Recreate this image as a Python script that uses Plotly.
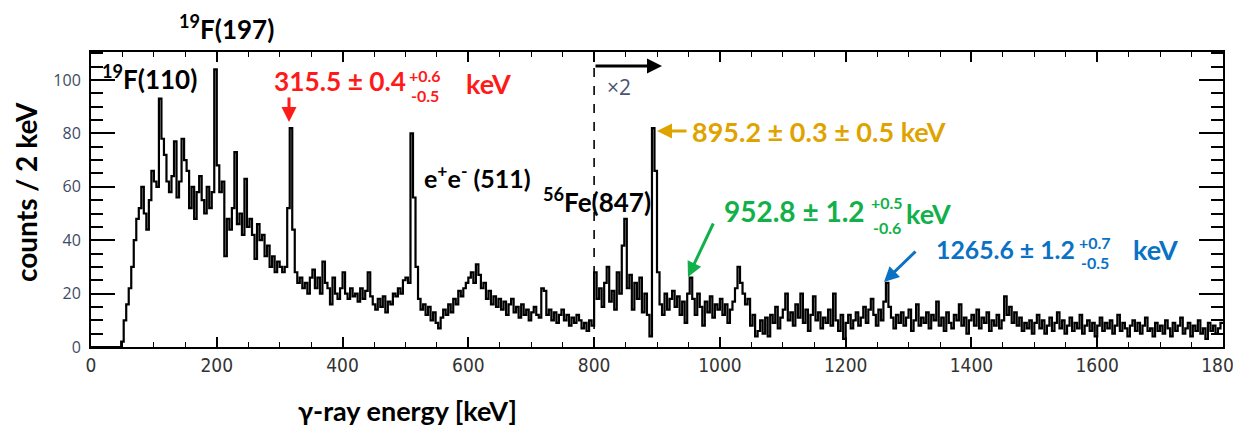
import numpy as np
import plotly.graph_objects as go

# ---------------- data (4 keV steps as drawn, counts as displayed) ----------------
bin_width_kev = 4
counts_0_100 = [0, 0, 0, 0, 0, 0, 0, 0, 0, 0, 0, 0, 2, 10, 16, 22, 30, 40, 48, 52, 60, 50, 44, 55, 66]
counts_100_200 = [62, 60, 93, 78, 72, 62, 58, 64, 77, 56, 62, 78, 70, 66, 52, 60, 48, 58, 64, 55, 50, 60, 52, 58, 104]
counts_200_300 = [68, 58, 62, 34, 48, 44, 52, 73, 46, 50, 42, 63, 45, 48, 42, 33, 46, 40, 42, 34, 38, 30, 34, 28, 32]
counts_300_400 = [30, 28, 30, 52, 82, 44, 28, 24, 26, 22, 24, 20, 26, 29, 22, 26, 20, 32, 24, 22, 16, 26, 20, 18, 22]
counts_400_500 = [28, 20, 18, 22, 19, 20, 17, 22, 18, 21, 28, 19, 16, 14, 18, 15, 19, 13, 17, 16, 20, 19, 22, 20, 25]
counts_500_600 = [26, 24, 80, 56, 30, 18, 14, 16, 12, 15, 10, 13, 9, 7, 11, 14, 12, 16, 13, 18, 16, 21, 19, 22, 24]
counts_600_700 = [26, 28, 24, 31, 27, 22, 24, 18, 21, 16, 19, 15, 18, 14, 17, 12, 16, 18, 13, 15, 11, 16, 12, 14, 10]
counts_700_800 = [13, 15, 12, 11, 22, 21, 12, 14, 10, 13, 9, 12, 14, 10, 12, 8, 11, 9, 12, 10, 7, 9, 6, 10, 8]
counts_800_900 = [28, 18, 22, 15, 24, 30, 17, 21, 14, 28, 20, 38, 48, 22, 27, 14, 24, 18, 26, 13, 20, 12, 4, 82, 66]
counts_900_1000 = [28, 16, 12, 20, 14, 18, 21, 15, 19, 12, 17, 9, 20, 26, 18, 12, 20, 15, 8, 17, 13, 19, 11, 16, 14]
counts_1000_1100 = [18, 12, 16, 9, 14, 17, 22, 30, 24, 20, 16, 18, 8, 12, 4, 6, 10, 5, 11, 4, 12, 9, 15, 7, 11]
counts_1100_1200 = [14, 20, 10, 13, 8, 16, 11, 20, 9, 14, 6, 12, 19, 10, 13, 7, 11, 9, 14, 8, 20, 10, 6, 12, 3]
counts_1200_1300 = [9, 12, 7, 10, 13, 8, 11, 15, 9, 14, 18, 12, 8, 14, 10, 17, 24, 15, 11, 7, 12, 9, 13, 8, 11]
counts_1300_1400 = [14, 6, 10, 16, 8, 11, 9, 13, 7, 12, 10, 17, 8, 11, 6, 13, 9, 7, 12, 10, 16, 8, 11, 5, 10]
counts_1400_1500 = [12, 8, 14, 7, 11, 9, 13, 6, 10, 8, 12, 7, 10, 19, 12, 15, 9, 13, 8, 11, 6, 9, 7, 10, 5]
counts_1500_1600 = [9, 12, 7, 10, 5, 8, 11, 6, 9, 13, 7, 10, 5, 8, 11, 6, 9, 7, 12, 5, 8, 10, 6, 9, 4]
counts_1600_1700 = [8, 11, 6, 9, 7, 10, 5, 8, 12, 6, 9, 7, 4, 8, 10, 6, 9, 5, 8, 11, 6, 7, 4, 9, 6]
counts_1700_1800 = [8, 5, 10, 7, 4, 9, 6, 8, 11, 5, 7, 9, 4, 8, 6, 10, 5, 7, 3, 9, 6, 8, 5, 7, 9]

counts = (counts_0_100 + counts_100_200 + counts_200_300 + counts_300_400 + counts_400_500
          + counts_500_600 + counts_600_700 + counts_700_800 + counts_800_900 + counts_900_1000
          + counts_1000_1100 + counts_1100_1200 + counts_1200_1300 + counts_1300_1400
          + counts_1400_1500 + counts_1500_1600 + counts_1600_1700 + counts_1700_1800)

x_tick_values = [0, 200, 400, 600, 800, 1000, 1200, 1400, 1600, 1800]
y_tick_values = [0, 20, 40, 60, 80, 100]
scale_change_kev = 800

edges = np.arange(len(counts) + 1) * bin_width_kev
step_x = edges
step_y = counts + [counts[-1]]

# ---------------- layout geometry ----------------
W, H = 1233, 432
L, R, T, B = 91, 10, 52, 85
PX0, PX1 = L, W - R
PY0, PY1 = T, H - B


def px(xp):
    return (xp - PX0) / (PX1 - PX0)


def py(yp):
    return (PY1 - yp) / (PY1 - PY0)


BOLD = "Lato, 'Open Sans', sans-serif"
NARROW = "'Liberation Sans Narrow', 'DejaVu Sans Condensed', 'Arial Narrow', sans-serif"

fig = go.Figure()
fig.add_trace(go.Scatter(x=step_x, y=step_y, mode="lines",
                         line=dict(shape="hv", color="black", width=2.2),
                         hoverinfo="skip", showlegend=False))

# dashed scale-change line
fig.add_shape(type="line", x0=scale_change_kev, x1=scale_change_kev, y0=0, y1=106,
              xref="x", yref="y", line=dict(color="black", width=1.6, dash="dash"))

annotations = []


def txt(text, xp, yp, size, color="black", bold=True, xanchor="left", family=BOLD):
    t = f"<b>{text}</b>" if bold else text
    annotations.append(dict(text=t, x=px(xp), y=py(yp), xref="paper", yref="paper",
                            xanchor=xanchor, yanchor="middle", showarrow=False,
                            font=dict(size=size, color=color, family=family)))


def arrow(tip, tail, color, width=3, head=2, size=1.0):
    annotations.append(dict(text="", x=px(tip[0]), y=py(tip[1]), xref="paper", yref="paper",
                            ax=tail[0] - tip[0], ay=tail[1] - tip[1], axref="pixel", ayref="pixel",
                            showarrow=True, arrowhead=head, arrowsize=size, arrowwidth=width,
                            arrowcolor=color))


# peak labels
txt("<sup>19</sup>F(197)", 177, 28, 26)
txt("<sup>19</sup>F(110)", 100, 77, 26)
txt("e<sup>+</sup>e<sup>-</sup> (511)", 422, 176, 25)
txt("<sup>56</sup>Fe(847)", 541, 200, 26)
txt("×2", 605, 87, 21, color="#4a5470", bold=False, family="'Open Sans', sans-serif")

RED = "#ff1a1a"
GOLD = "#dfa300"
GREEN = "#12b04a"
BLUE = "#0a72c4"

# red 315.5
txt("315.5 ± 0.4", 272, 81, 26.3, RED)
txt("+0.6", 407, 75, 16, RED)
txt("-0.5", 409, 95, 16, RED)
txt("keV", 464, 83, 27, RED)
arrow((289, 122), (289, 96), RED)

# gold 895.2
txt("895.2 ± 0.3 ± 0.5 keV", 690, 131, 27, GOLD)
arrow((657, 131), (688, 131), GOLD)

# green 952.8
txt("952.8 ± 1.2", 722, 211, 28, GREEN)
txt("+0.5", 869, 203, 16, GREEN)
txt("-0.6", 871, 227, 16, GREEN)
txt("keV", 904, 213, 27, GREEN)
arrow((688, 277), (714, 222), GREEN)

# blue 1265.6
txt("1265.6 ± 1.2", 934, 249, 24.8, BLUE)
txt("+0.7", 1077, 242, 16, BLUE)
txt("-0.5", 1079, 262, 16, BLUE)
txt("keV", 1131, 249, 27, BLUE)
arrow((884, 282), (917, 250), BLUE)

# x2 region arrow
arrow((662, 66), (594, 66), "black", width=3)

# axis titles
annotations.append(dict(text="<b>counts / 2 keV</b>", x=px(26), y=py(192), xref="paper", yref="paper",
                        textangle=-90, showarrow=False, xanchor="center", yanchor="middle",
                        font=dict(size=28, family=BOLD, color="black")))
annotations.append(dict(text="<b>γ-ray energy [keV]</b>", x=px(407), y=py(410), xref="paper", yref="paper",
                        showarrow=False, xanchor="center", yanchor="middle",
                        font=dict(size=27, family=BOLD, color="black")))

fig.update_layout(
    width=W, height=H,
    margin=dict(l=L, r=R, t=T, b=B, autoexpand=False),
    paper_bgcolor="white", plot_bgcolor="white",
    showlegend=False,
    annotations=annotations,
    xaxis=dict(range=[0, 1800], tickmode="array", tickvals=x_tick_values,
               automargin=False, ticklabeloverflow="allow",
               ticks="inside", ticklen=10, tickwidth=1.5, tickcolor="black",
               minor=dict(dtick=50, ticks="inside", ticklen=5, tickwidth=1.2, tickcolor="black"),
               showline=True, linewidth=2, linecolor="black", mirror="ticks",
               showgrid=False, zeroline=False,
               tickfont=dict(size=19, family=NARROW, color="#333333")),
    yaxis=dict(range=[0, 110.5], tickmode="array", tickvals=y_tick_values,
               automargin=False, ticklabelstandoff=5,
               ticks="inside", ticklen=24, tickwidth=1.8, tickcolor="black",
               minor=dict(dtick=5, ticks="inside", ticklen=12, tickwidth=1.5, tickcolor="black"),
               showline=True, linewidth=2, linecolor="black", mirror="ticks",
               showgrid=False, zeroline=False,
               tickfont=dict(size=16, family="'Open Sans', sans-serif", color="#3d4a66")),
)

fig.write_html("out.html", config={"displayModeBar": False},
               post_script="document.body.style.margin='0';")
